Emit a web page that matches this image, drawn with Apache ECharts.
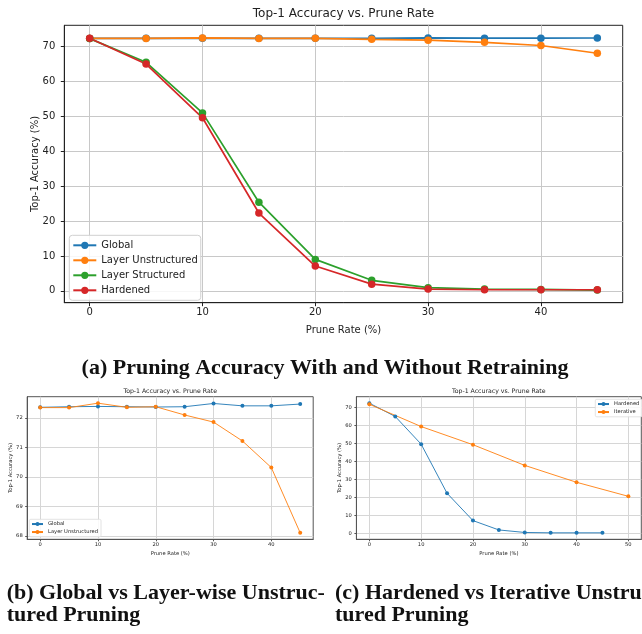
<!DOCTYPE html>
<html><head><meta charset="utf-8">
<script src="https://cdn.jsdelivr.net/npm/echarts@6/dist/echarts.min.js"></script>
<style>
html,body{margin:0;padding:0;background:#fff;width:642px;height:634px;overflow:hidden}
.layer{position:absolute;left:0;top:0;width:642px;height:634px}
</style>
</head><body>
<div id="ca" class="layer"></div>
<div id="cb" class="layer"></div>
<div id="cc" class="layer"></div>
<script>
// ---- data ----
const pruneRates = [0, 5, 10, 15, 20, 25, 30, 35, 40, 45];
const globalAcc = [72.36, 72.38, 72.39, 72.38, 72.37, 72.38, 72.49, 72.41, 72.41, 72.47];
const layerUnstructuredAcc = [72.35, 72.35, 72.50, 72.36, 72.38, 72.10, 71.86, 71.22, 70.32, 68.11];
const layerStructuredAcc = [72.3, 65.5, 51.0, 25.4, 9.0, 3.0, 0.9, 0.5, 0.4, 0.2];
const hardenedAcc = [72.4, 65.0, 49.6, 22.3, 7.1, 1.9, 0.5, 0.3, 0.3, 0.3];
const iterativeRates = [0, 10, 20, 30, 40, 50];
const iterativeAcc = [71.8, 59.4, 49.3, 37.8, 28.4, 20.6];

const xTicksAB = [0, 10, 20, 30, 40];
const yTicksA = [0, 10, 20, 30, 40, 50, 60, 70];
const yTicksB = [68, 69, 70, 71, 72];
const xTicksC = [0, 10, 20, 30, 40, 50];
const yTicksC = [0, 10, 20, 30, 40, 50, 60, 70];

const chartTitle = 'Top-1 Accuracy vs. Prune Rate';
const xName = 'Prune Rate (%)';
const yName = 'Top-1 Accuracy (%)';
const captionA = '(a) Pruning Accuracy With and Without Retraining';
const captionB = '(b) Global vs Layer-wise Unstruc-\ntured Pruning';
const captionC = '(c) Hardened vs Iterative Unstruc-\ntured Pruning';

// ---- helpers ----
const BLUE = '#1f77b4', ORANGE = '#ff7f0e', GREEN = '#2ca02c', RED = '#d62728';
const FONT = '"DejaVu Sans", sans-serif';
const SERIF = '"Liberation Serif", "DejaVu Serif", serif';

function pad(values) {
  const mn = Math.min(...values), mx = Math.max(...values), r = mx - mn;
  return [mn - 0.05 * r, mx + 0.05 * r];
}
function pairs(xs, ys) { return xs.map((x, i) => [x, ys[i]]); }

function axis(o) {
  return {
    type: 'value', min: o.range[0], max: o.range[1],
    name: o.name, nameLocation: 'middle', nameGap: o.nameGap, nameMoveOverlap: false,
    nameTextStyle: { fontFamily: FONT, fontSize: o.fs, color: '#222' },
    axisLine: { show: true, onZero: false, lineStyle: { color: o.spine, width: 1 } },
    axisTick: { show: true, inside: false, length: o.tickLen, lineStyle: { color: o.spine, width: 1 }, customValues: o.ticks },
    axisLabel: { show: true, customValues: o.ticks, fontFamily: FONT, fontSize: o.fs, color: '#222', margin: o.margin },
    splitLine: { show: true, lineStyle: { color: o.gridColor, width: 1 } }
  };
}
function line(name, xs, ys, color, size, width) {
  return {
    type: 'line', name: name, data: pairs(xs, ys), color: color,
    symbol: 'circle', symbolSize: size, showSymbol: true,
    lineStyle: { width: width, color: color }, itemStyle: { color: color },
    emphasis: { disabled: true }, animation: false, clip: false
  };
}
function titleText(x, y, fs) {
  return { type: 'text', x: x, y: y, silent: true,
    style: { text: chartTitle, font: fs + 'px ' + FONT, fill: '#222',
      textAlign: 'center', textVerticalAlign: 'middle', align: 'center', verticalAlign: 'middle' } };
}

// ---- chart (a) ----
const allA = globalAcc.concat(layerUnstructuredAcc, layerStructuredAcc, hardenedAcc);
const chartA = echarts.init(document.getElementById('ca'), null, { renderer: 'canvas' });
chartA.setOption({
  animation: false,
  grid: { left: 64.3, top: 25.3, width: 558.4, height: 277.4, show: true, borderColor: '#222', borderWidth: 1, containLabel: false, outerBoundsMode: 'none' },
  xAxis: axis({ range: pad(pruneRates), ticks: xTicksAB, name: xName, nameGap: 22.5, fs: 10, spine: '#222', tickLen: 3.5, margin: 5, gridColor: '#c8c8c8' }),
  yAxis: axis({ range: pad(allA), ticks: yTicksA, name: yName, nameGap: 24, fs: 10, spine: '#222', tickLen: 3.5, margin: 9, gridColor: '#c8c8c8' }),
  legend: {
    orient: 'vertical', left: 69.3, top: 235.3, padding: [4, 3, 4, 3], itemGap: 3,
    itemWidth: 23, itemHeight: 9,
    backgroundColor: 'rgba(255,255,255,0.85)', borderColor: '#d0d0d0', borderWidth: 1, borderRadius: 3,
    textStyle: { fontFamily: FONT, fontSize: 10, color: '#222', lineHeight: 12 },
    data: ['Global', 'Layer Unstructured', 'Layer Structured', 'Hardened'],
    selectedMode: false
  },
  series: [
    line('Global', pruneRates, globalAcc, BLUE, 7.5, 1.7),
    line('Layer Unstructured', pruneRates, layerUnstructuredAcc, ORANGE, 7.5, 1.7),
    line('Layer Structured', pruneRates, layerStructuredAcc, GREEN, 7.5, 1.7),
    line('Hardened', pruneRates, hardenedAcc, RED, 7.5, 1.7)
  ],
  graphic: [
    titleText(343.5, 14, 12),
    { type: 'text', x: 325, y: 368, silent: true,
      style: { text: captionA, font: 'bold 22px ' + SERIF, fill: '#111', textAlign: 'center', textVerticalAlign: 'middle', align: 'center', verticalAlign: 'middle' } },
    { type: 'text', x: 6.7, y: 604.5, silent: true,
      style: { text: captionB, font: 'bold 22px ' + SERIF, lineHeight: 21.7, fill: '#111', textAlign: 'left', textVerticalAlign: 'middle', align: 'left', verticalAlign: 'middle' } },
    { type: 'text', x: 335, y: 604.5, silent: true,
      style: { text: captionC, font: 'bold 22px ' + SERIF, lineHeight: 21.7, fill: '#111', textAlign: 'left', textVerticalAlign: 'middle', align: 'left', verticalAlign: 'middle' } }
  ]
});

// ---- chart (b) ----
const allB = globalAcc.concat(layerUnstructuredAcc);
const chartB = echarts.init(document.getElementById('cb'), null, { renderer: 'canvas' });
chartB.setOption({
  animation: false,
  grid: { left: 27.2, top: 396.7, width: 286, height: 142.6, show: true, borderColor: '#555', borderWidth: 1, containLabel: false, outerBoundsMode: 'none' },
  xAxis: axis({ range: pad(pruneRates), ticks: xTicksAB, name: xName, nameGap: 12, fs: 5.2, spine: '#555', tickLen: 2, margin: 3.2, gridColor: '#d6d6d6' }),
  yAxis: axis({ range: pad(allB), ticks: yTicksB, name: yName, nameGap: 14.5, fs: 5.2, spine: '#555', tickLen: 2, margin: 4.5, gridColor: '#d6d6d6' }),
  legend: {
    orient: 'vertical', left: 29.3, top: 519.3, padding: [1.5, 3, 1.5, 1.7], itemGap: 1.5,
    itemWidth: 11, itemHeight: 5,
    backgroundColor: 'rgba(255,255,255,0.85)', borderColor: '#dcdcdc', borderWidth: 0.8, borderRadius: 1.5,
    textStyle: { fontFamily: FONT, fontSize: 5.2, color: '#222', lineHeight: 6.5 },
    data: ['Global', 'Layer Unstructured'], selectedMode: false
  },
  series: [
    line('Global', pruneRates, globalAcc, BLUE, 4, 0.9),
    line('Layer Unstructured', pruneRates, layerUnstructuredAcc, ORANGE, 4, 0.9)
  ],
  graphic: [ titleText(170.2, 391.7, 6.2) ]
});

// ---- chart (c) ----
const allC = hardenedAcc.concat(iterativeAcc);
const chartC = echarts.init(document.getElementById('cc'), null, { renderer: 'canvas' });
chartC.setOption({
  animation: false,
  grid: { left: 356.4, top: 396.7, width: 284.9, height: 142.6, show: true, borderColor: '#555', borderWidth: 1, containLabel: false, outerBoundsMode: 'none' },
  xAxis: axis({ range: pad(iterativeRates), ticks: xTicksC, name: xName, nameGap: 12, fs: 5.2, spine: '#555', tickLen: 2, margin: 3.2, gridColor: '#d6d6d6' }),
  yAxis: axis({ range: pad(allC), ticks: yTicksC, name: yName, nameGap: 14.5, fs: 5.2, spine: '#555', tickLen: 2, margin: 4.5, gridColor: '#d6d6d6' }),
  legend: {
    orient: 'vertical', left: 595.3, top: 399.3, padding: [1.5, 3, 1.5, 1.7], itemGap: 1.5,
    itemWidth: 11, itemHeight: 5,
    backgroundColor: 'rgba(255,255,255,0.85)', borderColor: '#dcdcdc', borderWidth: 0.8, borderRadius: 1.5,
    textStyle: { fontFamily: FONT, fontSize: 5.2, color: '#222', lineHeight: 6.5 },
    data: ['Hardened', 'Iterative'], selectedMode: false
  },
  series: [
    line('Hardened', pruneRates, hardenedAcc, BLUE, 4, 0.9),
    line('Iterative', iterativeRates, iterativeAcc, ORANGE, 4, 0.9)
  ],
  graphic: [ titleText(498.8, 391.7, 6.2) ]
});
</script>
</body></html>
